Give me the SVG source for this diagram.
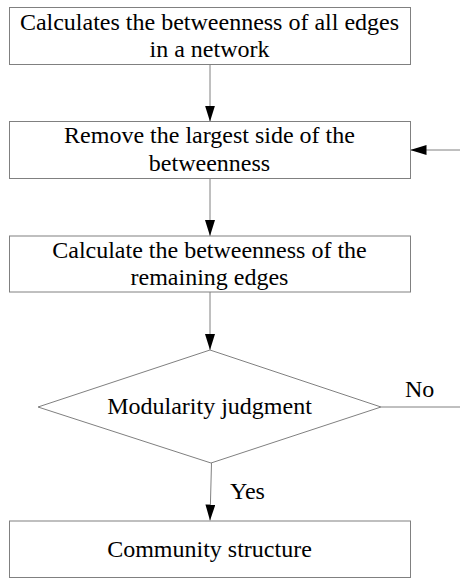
<svg xmlns="http://www.w3.org/2000/svg" width="460" height="578" viewBox="0 0 460 578">
<defs>
<style>
.box{fill:#fff;stroke:#808080;stroke-width:1}
.c{fill:none;stroke:#808080;stroke-width:1}
</style>
<marker id="ah" markerWidth="16" markerHeight="10" refX="16" refY="5" orient="auto" markerUnits="userSpaceOnUse">
<path d="M0,0 L16,5 L0,10 Z" fill="#000"/>
</marker>
</defs>
<rect width="460" height="578" fill="#fff"/>
<g id="connectors">
<line class="c" x1="210" y1="64" x2="210" y2="121.5" marker-end="url(#ah)"/>
<line class="c" x1="210" y1="178" x2="210" y2="236" marker-end="url(#ah)"/>
<line class="c" x1="210" y1="292" x2="210" y2="350" marker-end="url(#ah)"/>
<line class="c" x1="211.5" y1="463" x2="210" y2="520.5" marker-end="url(#ah)"/>
<line class="c" x1="381" y1="407" x2="460" y2="407"/>
<line class="c" x1="460" y1="150" x2="410.5" y2="150" marker-end="url(#ah)"/>
<text x="405" y="397" font-family="Liberation Serif" font-size="24" fill="#000">No</text>
<text x="230" y="499" font-family="Liberation Serif" font-size="24" fill="#000">Yes</text>
</g>
<g id="n1">
<rect class="box" x="9.5" y="7.5" width="401" height="57"/>
<text x="209.5" y="30" font-family="Liberation Serif" font-size="24" text-anchor="middle" fill="#000">Calculates the betweenness of all edges</text>
<text x="209.5" y="57" font-family="Liberation Serif" font-size="24" text-anchor="middle" fill="#000">in a network</text>
</g>
<g id="n2">
<rect class="box" x="9.5" y="121.5" width="401" height="57"/>
<text x="209.5" y="143" font-family="Liberation Serif" font-size="24" text-anchor="middle" fill="#000">Remove the largest side of the</text>
<text x="209.5" y="171" font-family="Liberation Serif" font-size="24" text-anchor="middle" fill="#000">betweenness</text>
</g>
<g id="n3">
<rect class="box" x="9.5" y="236" width="401" height="56"/>
<text x="209.5" y="257.5" font-family="Liberation Serif" font-size="24" text-anchor="middle" fill="#000">Calculate the betweenness of the</text>
<text x="209.5" y="284.5" font-family="Liberation Serif" font-size="24" text-anchor="middle" fill="#000">remaining edges</text>
</g>
<g id="n4">
<polygon class="box" points="210,350 381,407 211,463 38,407"/>
<text x="209.5" y="414" font-family="Liberation Serif" font-size="24" text-anchor="middle" fill="#000">Modularity judgment</text>
</g>
<g id="n5">
<rect class="box" x="9.5" y="521" width="401" height="56.5"/>
<text x="209.5" y="557" font-family="Liberation Serif" font-size="24" text-anchor="middle" fill="#000">Community structure</text>
</g>
</svg>
